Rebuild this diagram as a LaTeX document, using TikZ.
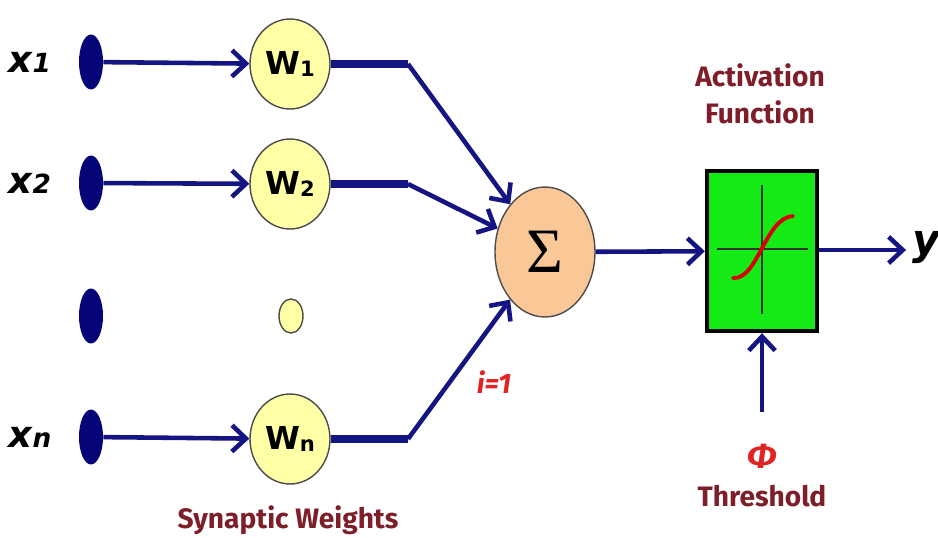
\documentclass[tikz,border=0pt]{standalone}
\usepackage{fontspec}
\setsansfont{Fira Sans}
\newfontfamily\wfont{DejaVu Sans}
\newfontfamily\sigfont{Liberation Serif}
\usetikzlibrary{arrows.meta,positioning,shapes.geometric}

\definecolor{wireblue}{RGB}{20,20,130}
\definecolor{dotblue}{RGB}{5,5,120}
\definecolor{wtyellow}{RGB}{255,255,165}
\definecolor{sumpeach}{RGB}{250,200,150}
\definecolor{actgreen}{RGB}{20,235,20}
\definecolor{labelred}{RGB}{125,30,40}
\definecolor{idxred}{RGB}{225,35,35}

\tikzset{
  wire/.style={wireblue, line width=2.6pt, -{Straight Barb[length=8pt,width=15pt,line width=2.6pt]}},
  bus/.style={wireblue, line width=4pt},
  inputdot/.style={ellipse, fill=dotblue, minimum width=0.48cm, minimum height=1.1cm, inner sep=0pt},
  weight/.style={ellipse, draw=black!70, thick, fill=wtyellow, minimum width=1.6cm, minimum height=1.8cm, inner sep=0pt, font=\wfont\bfseries\fontsize{18}{20}\selectfont},
  inlabel/.style={font=\wfont\bfseries\itshape\fontsize{21}{24}\selectfont},
  caption/.style={labelred, font=\sffamily\bfseries\fontsize{16}{21}\selectfont, align=center}
}

\begin{document}
\begin{tikzpicture}[x=0.02cm,y=-0.02cm]
\useasboundingbox (0,0) rectangle (938,538);

% inputs
\node[inlabel] (x1) at (30,62) {x{\fontsize{15}{18}\selectfont 1}};
\node[inlabel] (x2) at (30,183) {x{\fontsize{15}{18}\selectfont 2}};
\node[inlabel] (xn) at (30,437) {x{\fontsize{15}{18}\selectfont n}};
\node[inputdot] (d1) at (91,62) {};
\node[inputdot] (d2) at (91,183) {};
\node[inputdot] (d3) at (91,316) {};
\node[inputdot] (dn) at (91,437) {};

% synaptic weights
\node[weight] (w1) at (290,64) {W{\fontsize{12}{12}\selectfont\raisebox{-1pt}{1}}};
\node[weight] (w2) at (290,184) {W{\fontsize{12}{12}\selectfont\raisebox{-1pt}{2}}};
\node[weight, minimum width=0.48cm, minimum height=0.68cm] (w3) at (291,316) {};
\node[weight] (wn) at (290,439) {W{\fontsize{12}{12}\selectfont\raisebox{-1pt}{n}}};
\node[caption] (syn) at (288,520) {Synaptic Weights};

\draw[wire] (d1) -- (w1);
\draw[wire] (d2) -- (w2);
\draw[wire] (dn) -- (wn);

% summation
\node[ellipse, draw=black!70, thick, fill=sumpeach, minimum width=2cm, minimum height=2.6cm, font=\sigfont\fontsize{36}{38}\selectfont] (sum) at (545,252) {Σ};
\node[idxred, font=\sffamily\bfseries\itshape\fontsize{16}{19}\selectfont] (idx) at (494,382) {i=1};

\coordinate (b1) at (408,64);
\coordinate (b2) at (408,184);
\coordinate (bn) at (408,439);
\draw[bus] (w1.east) -- (b1);
\draw[bus] (w2.east) -- (b2);
\draw[bus] (wn.east) -- (bn);
\draw[wire] (b1) -- (sum);
\draw[wire] (b2) -- (sum);
\draw[wire] (bn) -- (sum);

% activation function
\node[draw=black, line width=2.5pt, fill=actgreen, minimum width=2.2cm, minimum height=3.2cm] (act) at (762,251) {};
\node[caption] (actlbl) at (760,94) {Activation\\Function};
\draw[black!80, line width=1.2pt] (717,249) -- (808,249);
\draw[black!80, line width=1.2pt] (762,185) -- (762,314);
\draw[red!85!black, line width=2.2pt, line cap=round] (733,278) .. controls (758,280) and (765,218) .. (793,216);
\draw[wire] (sum) -- (act);

% output
\node[inlabel, font=\wfont\bfseries\itshape\fontsize{24}{26}\selectfont] (y) at (926,248) {y};
\draw[wire] (act.east |- 0,250) -- (y.west |- 0,250);

% threshold
\coordinate (thr) at (762,412);
\draw[wire] (thr) -- (act.south);
\node[idxred, font=\sffamily\bfseries\itshape\fontsize{20}{22}\selectfont] (phi) at (762,456) {Φ};
\node[caption] (thrlbl) at (762,496) {Threshold};
\end{tikzpicture}
\end{document}
